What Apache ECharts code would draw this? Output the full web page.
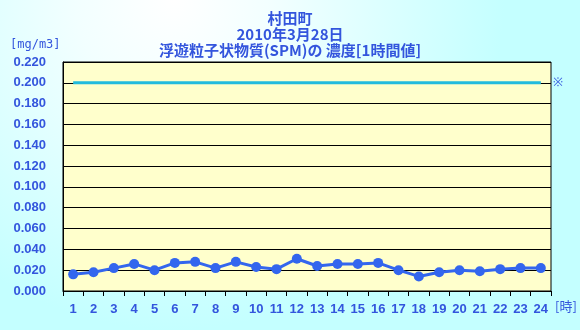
<!DOCTYPE html>
<html><head><meta charset="utf-8">
<script src="https://cdn.jsdelivr.net/npm/echarts@6/dist/echarts.min.js"></script>
<style>html,body{margin:0;padding:0;}#c{width:580px;height:330px;}</style>
</head><body><div id="c"></div>
<script>
var titleLines = ['村田町', '2010年3月28日', '浮遊粒子状物質(SPM)の 濃度[1時間値]'];
var hours = ['1','2','3','4','5','6','7','8','9','10','11','12','13','14','15','16','17','18','19','20','21','22','23','24'];
var spm = [0.016,0.018,0.022,0.026,0.020,0.027,0.028,0.022,0.028,0.023,0.021,0.031,0.024,0.026,0.026,0.027,0.020,0.014,0.018,0.020,0.019,0.021,0.022,0.022];
var standardValue = 0.200;
var yTicks = {min: 0, max: 0.22, interval: 0.02};
var unitY = '[mg/m3]';
var unitX = '[時]';

var txt = '#3355dd';
var chart = echarts.init(document.getElementById('c'));
chart.setOption({
  animation: false,
  backgroundColor: {type:'radial', x:0.3, y:0, r:1.0, colorStops:[{offset:0,color:'#ffffff'},{offset:0.3,color:'#f2ffff'},{offset:1,color:'#c4ffff'}]},
  title: {text: titleLines.join('\n'), left: 'center', top: 5,
    textStyle: {color: txt, fontSize: 15, fontWeight: 'bold', lineHeight: 16, fontFamily: 'Noto Sans CJK JP'}},
  grid: {left: 63, right: 29, top: 62, bottom: 39, show: true, backgroundColor: '#ffffcc', borderColor: '#000', borderWidth: 1},
  xAxis: {type: 'category', data: hours, boundaryGap: true,
    axisLine: {lineStyle: {color: '#000', width: 1}},
    axisTick: {show: true, alignWithLabel: false, length: 5, lineStyle: {color: '#000'}},
    axisLabel: {color: txt, fontSize: 13, fontWeight: 'bold', margin: 12, fontFamily: 'Liberation Sans', interval: 0},
    splitLine: {show: false}},
  yAxis: {type: 'value', min: yTicks.min, max: yTicks.max, interval: yTicks.interval,
    axisLine: {show: true, lineStyle: {color: '#000'}},
    axisTick: {show: false},
    axisLabel: {color: txt, fontSize: 13, fontWeight: 'bold', margin: 17, fontFamily: 'Liberation Sans',
      formatter: function(v){ return v.toFixed(3); }},
    splitLine: {show: true, lineStyle: {color: '#000', width: 1}}},
  graphic: [
    {type: 'text', left: 10, top: 39, style: {text: unitY, fill: txt, font: '12px "DejaVu Sans Mono", monospace'}},
    {type: 'text', left: 555, top: 300, style: {text: unitX, fill: txt, font: '13px "Noto Sans CJK JP"'}}
  ],
  series: [
    {type: 'line', data: hours.map(function(){ return standardValue; }), symbol: 'none',
      lineStyle: {color: '#22bbdd', width: 3}, z: 2,
      endLabel: {show: true, formatter: '※', color: txt, fontSize: 12, distance: 12}},
    {type: 'line', data: spm, symbol: 'circle', symbolSize: 10,
      lineStyle: {color: '#3366ee', width: 3}, itemStyle: {color: '#3366ee'}, z: 3}
  ]
});
</script></body></html>
